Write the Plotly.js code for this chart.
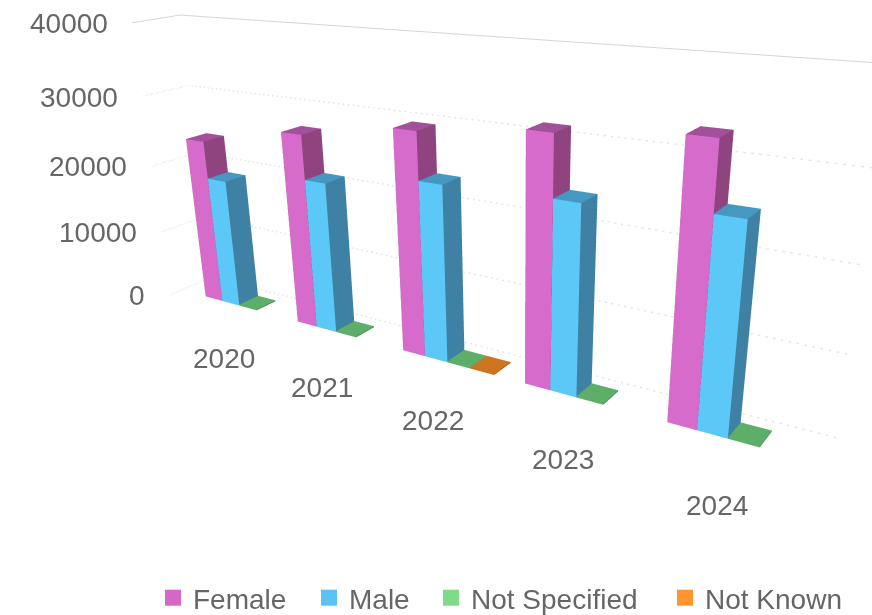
<!DOCTYPE html>
<html>
<head>
<meta charset="utf-8">
<script src="https://cdn.plot.ly/plotly-3.0.1.min.js"></script>
<style>
html,body{margin:0;padding:0;width:872px;height:615px;overflow:hidden;background:#fff}
#chart{position:absolute;left:0;top:-123px;width:872px;height:861px}
</style>
</head>
<body>
<div id="chart"></div>
<script>
const years = ['2020','2021','2022','2023','2024'];
const female = [24000, 27000, 29500, 31300, 32800];
const male = [18700, 21000, 23400, 23900, 25000];
const notSpecified = [150, 150, 150, 150, 150];
const notKnown = [0, 0, 150, 0, 0];
const valueTicks = [0, 10000, 20000, 30000, 40000];

const seriesNames = ['Female', 'Male', 'Not Specified', 'Not Known'];
const seriesValues = [female, male, notSpecified, notKnown];
const legendColors = ['#D567C6', '#5AC3F2', '#7FDB8A', '#FF9432'];
const frontColors = ['#D66BCB', '#5CC8F7', '#5DAE68', '#CF7423'];
const sideColors = ['#8F437F', '#3E81A4', '#4A8C54', '#A65C1C'];
const topColors = ['#A2509A', '#4698C1', '#5DAE68', '#CF7423'];

// Axis ranges leave room for the year labels in front of and below the floor.
const X_RANGE = [-0.71, 4.57];
const Y_RANGE = [-0.36, 1.01];
const Z_RANGE = [-3100, 40100];
const GRID_X = [-0.66, 4.56];
const GRID_Y = [0, 1];
const BAR_W = 0.19;
const BAR_Y = [0.27, 0.73];
const YEAR_LABEL_Y = -0.345;
const YEAR_LABEL_Z = -3000;

// One column as a cuboid: eight corners, twelve triangles.
function addCuboid(m, x0, x1, y0, y1, h, colors) {
  const b = m.x.length;
  [[x0,y0,0],[x1,y0,0],[x1,y1,0],[x0,y1,0],[x0,y0,h],[x1,y0,h],[x1,y1,h],[x0,y1,h]]
    .forEach(p => { m.x.push(p[0]); m.y.push(p[1]); m.z.push(p[2]); });
  const faces = [
    [0,1,5,'f'],[0,5,4,'f'],
    [1,2,6,'s'],[1,6,5,'s'],
    [4,5,6,'t'],[4,6,7,'t'],
    [3,2,6,'s'],[3,6,7,'s'],
    [0,3,7,'s'],[0,7,4,'s'],
    [0,1,2,'s'],[0,2,3,'s']
  ];
  faces.forEach(f => {
    m.i.push(b+f[0]); m.j.push(b+f[1]); m.k.push(b+f[2]);
    m.facecolor.push(f[3]==='f'?colors[0]:f[3]==='s'?colors[1]:colors[2]);
  });
}

const traces = [];

// Dashed value gridlines along the two walls.
valueTicks.forEach(v => {
  const solid = v === 40000;
  traces.push({
    type:'scatter3d', mode:'lines', showlegend:false, hoverinfo:'skip',
    x:[GRID_X[0],GRID_X[0],GRID_X[1]], y:[GRID_Y[0],GRID_Y[1],GRID_Y[1]], z:[v,v,v],
    line:{color: solid ? '#d6d6d6' : '#e6e6e6', width: solid ? 2 : 3, dash: solid ? 'solid' : 'dot'}
  });
});

seriesNames.forEach((name, s) => {
  const m = {type:'mesh3d', name, x:[], y:[], z:[], i:[], j:[], k:[], facecolor:[],
    flatshading:true, hoverinfo:'skip', showlegend:false, showscale:false,
    lighting:{ambient:1,diffuse:0,specular:0,roughness:1,fresnel:0}};
  seriesValues[s].forEach((v, c) => {
    if (v > 0) {
      const x0 = c - 2*BAR_W + s*BAR_W;
      addCuboid(m, x0, x0+BAR_W, BAR_Y[0], BAR_Y[1], v, [frontColors[s], sideColors[s], topColors[s]]);
    }
  });
  traces.push(m);
});

// Square legend keys, one small legend per series so each entry sits at its own spot.
const legendIds = ['legend', 'legend2', 'legend3', 'legend4'];
seriesNames.forEach((name, s) => {
  traces.push({type:'scatter3d', mode:'markers', name, legend:legendIds[s], x:[null], y:[null], z:[null],
    hoverinfo:'skip', marker:{symbol:'square', size:20, color:legendColors[s]}});
});

const annotations = [];
const TEXT = {family:'Liberation Sans, Arial, sans-serif', size:28, color:'#666666'};
valueTicks.forEach(v => annotations.push({
  x:GRID_X[0], y:GRID_Y[0], z:v, text:String(v), showarrow:false,
  xanchor:'right', yanchor:'middle', xshift:-23, yshift:-1, font:TEXT
}));
years.forEach((t, c) => annotations.push({
  x:c, y:YEAR_LABEL_Y, z:YEAR_LABEL_Z, text:t, showarrow:false,
  xanchor:'center', yanchor:'middle', xshift:9, yshift:-21, font:TEXT
}));

const hiddenAxis = r => ({range:r, visible:false, showgrid:false, zeroline:false,
  showticklabels:false, showspikes:false, showbackground:false, title:{text:''}});

const legendLeft = [153, 309, 431, 665];
const legendBox = px => ({orientation:'h', x:px/872, xanchor:'left', y:0.1626, yanchor:'middle',
  font:TEXT, itemclick:false, itemdoubleclick:false, bgcolor:'rgba(0,0,0,0)'});

const layout = {
  width:872, height:861,
  margin:{l:0,r:0,t:0,b:0},
  paper_bgcolor:'#ffffff',
  showlegend:true,
  legend:legendBox(legendLeft[0]),
  legend2:legendBox(legendLeft[1]),
  legend3:legendBox(legendLeft[2]),
  legend4:legendBox(legendLeft[3]),
  scene:{
    domain:{x:[0,1],y:[0,1]},
    aspectmode:'manual',
    aspectratio:{x:1.1785,y:0.1425,z:0.5238},
    xaxis:hiddenAxis(X_RANGE), yaxis:hiddenAxis(Y_RANGE), zaxis:hiddenAxis(Z_RANGE),
    bgcolor:'rgba(0,0,0,0)',
    camera:{
      eye:{x:0.8428,y:-1.196,z:0.4772},
      center:{x:0.0118,y:-0.026,z:-0.1258},
      up:{x:-0.185,y:0.316,z:0.916},
      projection:{type:'perspective'}
    },
    annotations
  }
};

Plotly.newPlot('chart', traces, layout, {displayModeBar:false});
</script>
</body>
</html>
